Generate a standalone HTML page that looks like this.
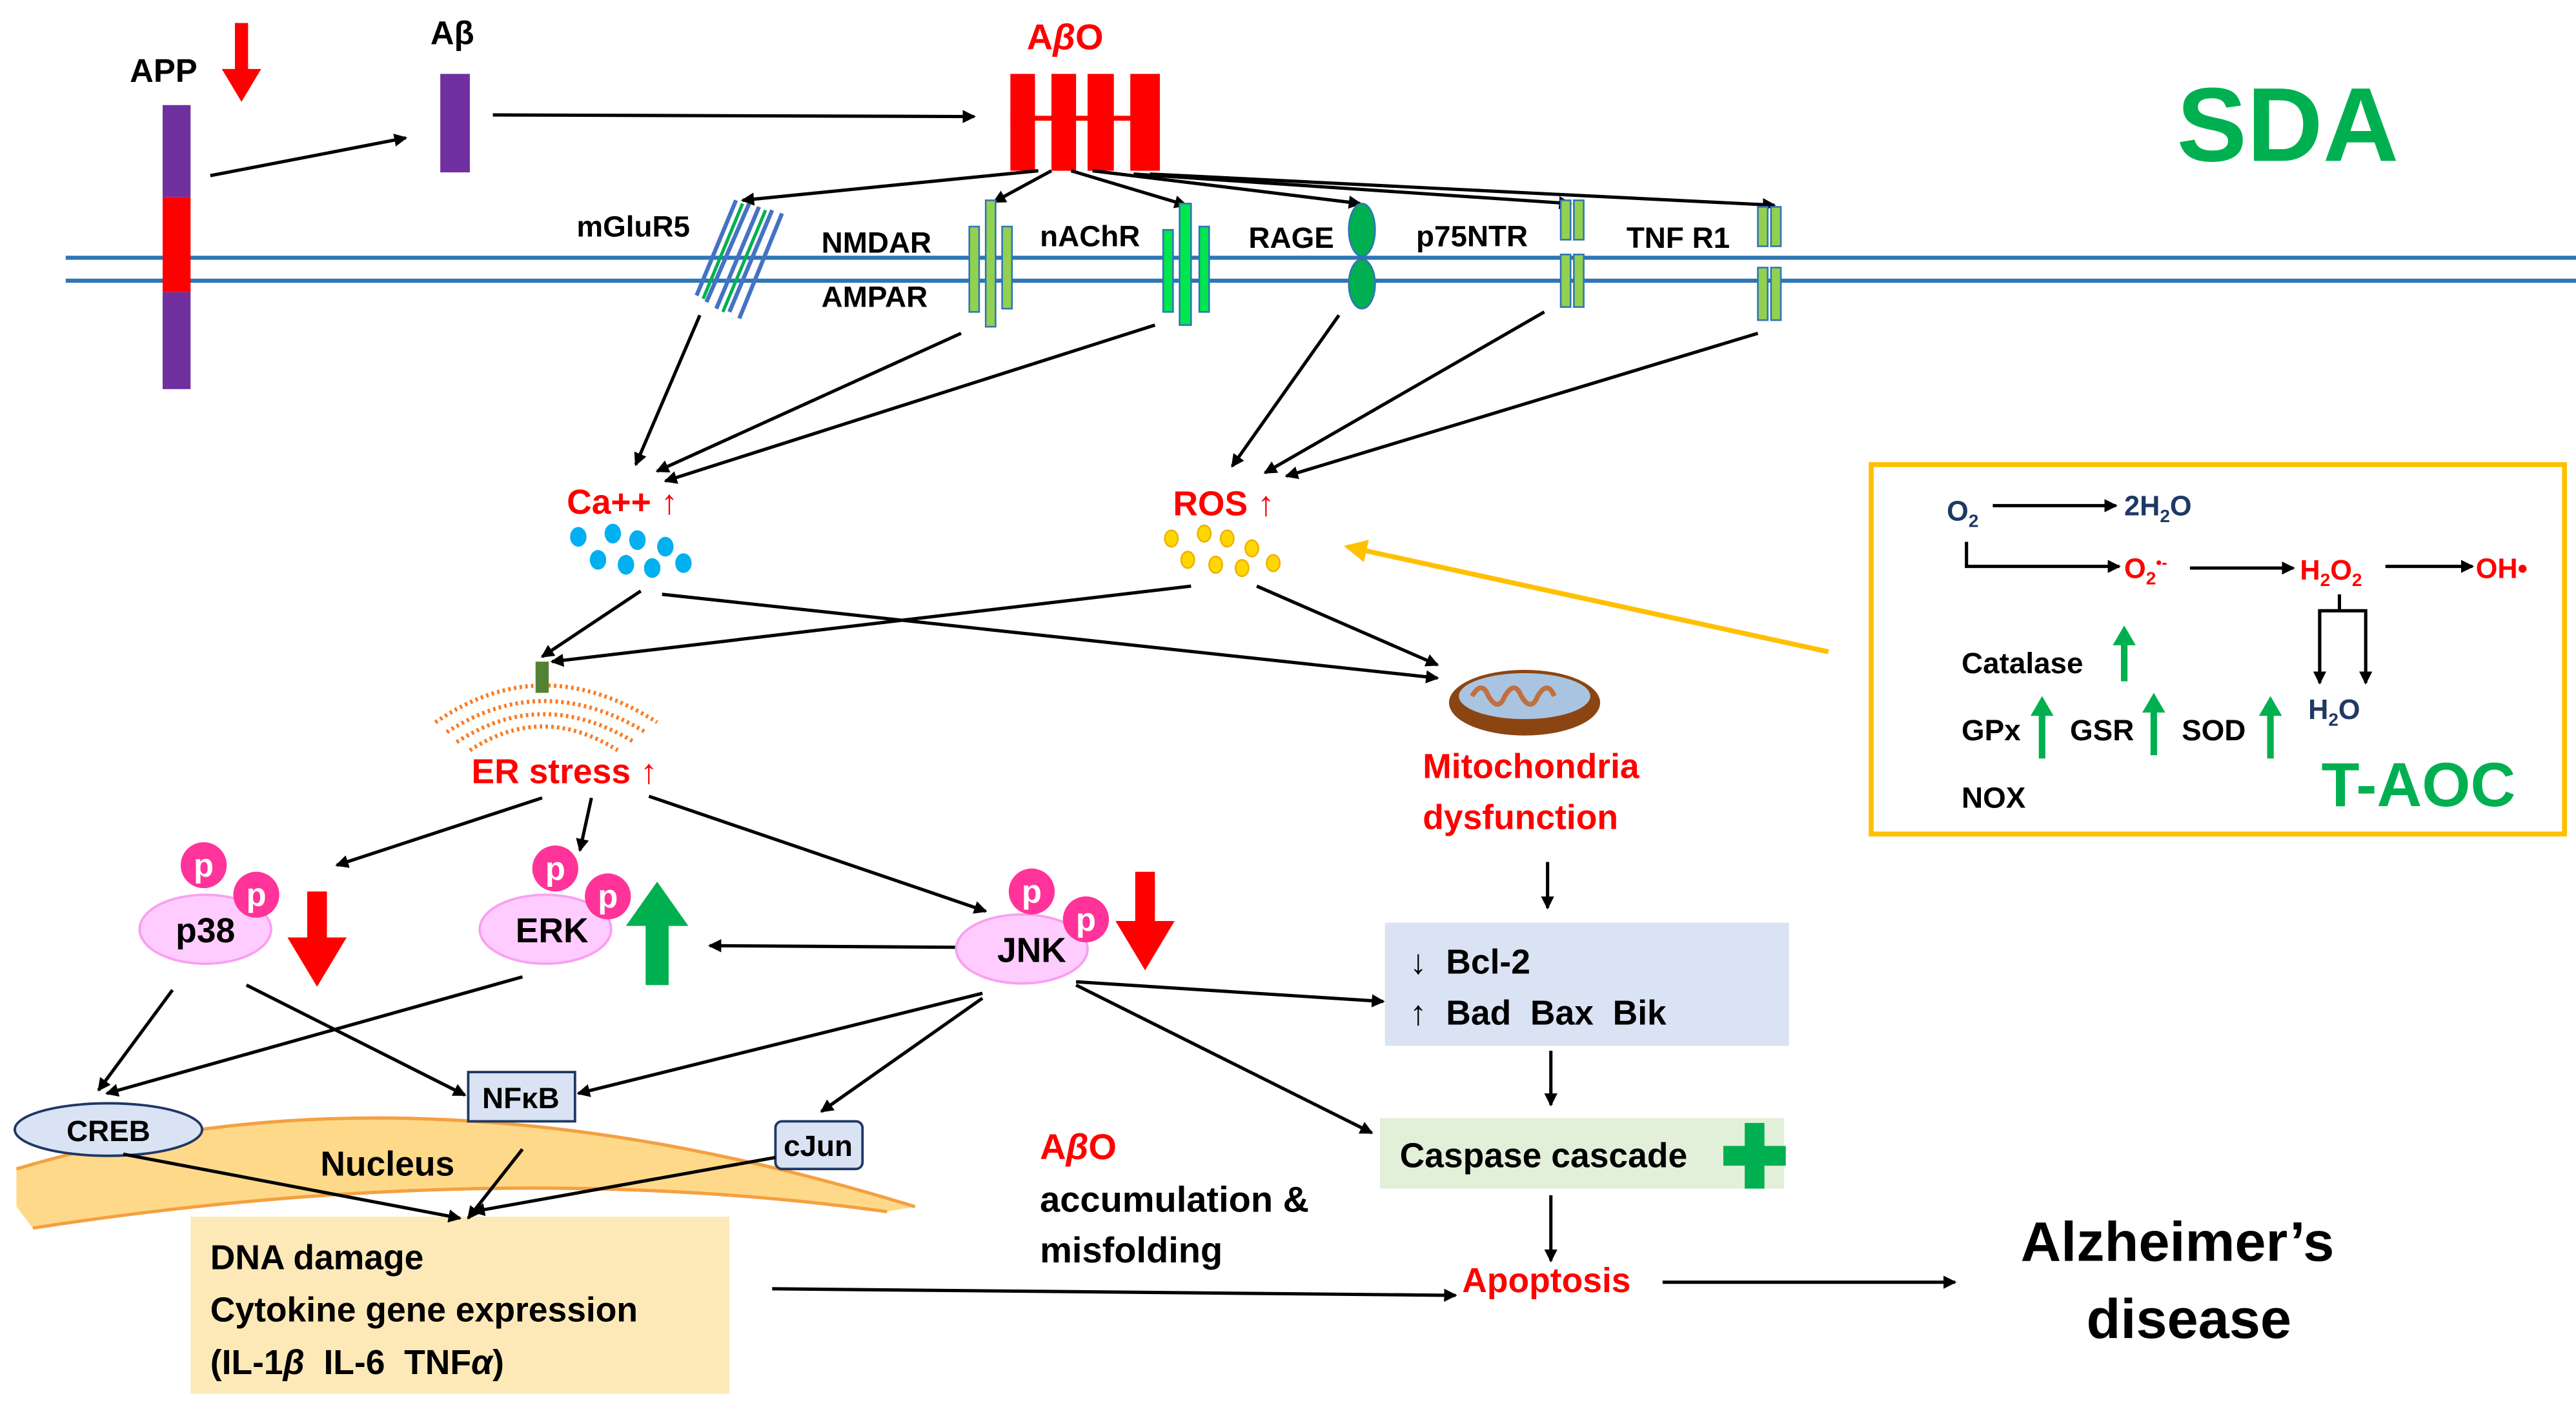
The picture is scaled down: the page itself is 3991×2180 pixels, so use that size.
<!DOCTYPE html>
<html><head><meta charset="utf-8"><style>
html,body{margin:0;padding:0;background:#fff;}
svg{display:block;}
text{font-family:"Liberation Sans",sans-serif;font-weight:bold;white-space:pre;}
</style></head><body>
<svg width="3991" height="2180" viewBox="0 0 1568 857" preserveAspectRatio="none" xmlns="http://www.w3.org/2000/svg">
<defs>
<marker id="a" markerWidth="8" markerHeight="8" refX="7" refY="4" orient="auto" markerUnits="userSpaceOnUse"><path d="M0,0 L8,4 L0,8 z" fill="#000"/></marker>
<marker id="ay" markerWidth="14" markerHeight="14" refX="12" refY="7" orient="auto" markerUnits="userSpaceOnUse"><path d="M0,0 L14,7 L0,14 z" fill="#ffc000"/></marker>
</defs>
<line x1="40" y1="157" x2="1568" y2="157" stroke="#2e75b6" stroke-width="2.5"/>
<line x1="40" y1="171" x2="1568" y2="171" stroke="#2e75b6" stroke-width="2.5"/>
<rect x="99" y="64" width="17" height="56" fill="#7030a0"/>
<rect x="99" y="120" width="17" height="58" fill="#f00"/>
<rect x="99" y="178" width="17" height="59" fill="#7030a0"/>
<text x="79" y="50" font-size="20">APP</text>
<path d="M143,14 h8 v28 h8 l-12,20 l-12,-20 h8z" fill="#f00"/>
<text x="262" y="27" font-size="20">Aβ</text>
<rect x="268" y="45" width="18" height="60" fill="#7030a0"/>
<g stroke="#000" stroke-width="2" fill="none" marker-end="url(#a)">
<line x1="128" y1="107" x2="247" y2="84"/>
<line x1="300" y1="70" x2="593" y2="71"/>
</g>
<text x="625" y="30" font-size="22" fill="#f00">A<tspan font-style="italic">β</tspan>O</text>
<rect x="615" y="45" width="15" height="59" fill="#f00"/>
<rect x="640" y="45" width="15" height="59" fill="#f00"/>
<rect x="662" y="45" width="16" height="59" fill="#f00"/>
<rect x="688" y="45" width="18" height="59" fill="#f00"/>
<line x1="615" y1="72" x2="706" y2="72" stroke="#f00" stroke-width="3"/>
<text x="1325" y="98" font-size="64" fill="#00b050">SDA</text>
<g stroke="#000" stroke-width="2" fill="none" marker-end="url(#a)">
<line x1="632" y1="104" x2="452" y2="122"/>
<line x1="640" y1="104" x2="605" y2="123"/>
<line x1="652" y1="104" x2="722" y2="125"/>
<line x1="665" y1="104" x2="828" y2="124"/>
<line x1="690" y1="106" x2="956" y2="124"/>
<line x1="700" y1="106" x2="1080" y2="125"/>
</g>
<g font-size="18">
<text x="351" y="144">mGluR5</text>
<text x="500" y="154">NMDAR</text>
<text x="500" y="187">AMPAR</text>
<text x="633" y="150">nAChR</text>
<text x="760" y="151">RAGE</text>
<text x="862" y="150">p75NTR</text>
<text x="990" y="151">TNF R1</text>
</g>
<g stroke="#4472c4" stroke-width="2.5" fill="none">
<path d="M448,122 L424,180 M456,124 L430,184 M462,126 L436,188 M470,128 L444,190 M476,130 L450,194"/>
</g>
<path d="M452,124 L428,182 M466,128 L440,190" stroke="#00b050" stroke-width="2" fill="none"/>
<g fill="#92d050" stroke="#2e75b6" stroke-width="1">
<rect x="590" y="138" width="6" height="52"/><rect x="600" y="122" width="6" height="77"/><rect x="610" y="138" width="6" height="50"/>
</g>
<g fill="#00e64d" stroke="#2e75b6" stroke-width="1">
<rect x="708" y="140" width="6" height="50"/><rect x="718" y="124" width="7" height="74"/><rect x="730" y="138" width="6" height="52"/>
</g>
<ellipse cx="829" cy="140" rx="8" ry="16" fill="#00b050" stroke="#2e75b6"/>
<ellipse cx="829" cy="173" rx="8" ry="15" fill="#00b050" stroke="#2e75b6"/>
<g fill="#92d050" stroke="#2e75b6" stroke-width="1">
<rect x="950" y="122" width="6" height="24"/><rect x="958" y="122" width="6" height="24"/>
<rect x="950" y="155" width="6" height="32"/><rect x="958" y="155" width="6" height="32"/>
<rect x="1070" y="126" width="6" height="24"/><rect x="1078" y="126" width="6" height="24"/>
<rect x="1070" y="163" width="6" height="32"/><rect x="1078" y="163" width="6" height="32"/>
</g>
<g stroke="#000" stroke-width="2" fill="none" marker-end="url(#a)">
<line x1="426" y1="192" x2="387" y2="283"/>
<line x1="585" y1="203" x2="400" y2="287"/>
<line x1="703" y1="198" x2="405" y2="293"/>
<line x1="815" y1="192" x2="750" y2="284"/>
<line x1="940" y1="190" x2="770" y2="288"/>
<line x1="1070" y1="203" x2="783" y2="290"/>
</g>
<text x="345" y="313" font-size="21" fill="#f00">Ca++ ↑</text>
<g fill="#00b0f0">
<ellipse cx="352" cy="327" rx="5" ry="6"/><ellipse cx="373" cy="325" rx="5" ry="6"/><ellipse cx="388" cy="329" rx="5" ry="6"/><ellipse cx="405" cy="333" rx="5" ry="6"/>
<ellipse cx="364" cy="341" rx="5" ry="6"/><ellipse cx="381" cy="344" rx="5" ry="6"/><ellipse cx="397" cy="346" rx="5" ry="6"/><ellipse cx="416" cy="343" rx="5" ry="6"/>
</g>
<text x="714" y="314" font-size="21" fill="#f00">ROS ↑</text>
<g fill="#ffd700" stroke="#f0b000" stroke-width="1">
<ellipse cx="713" cy="328" rx="4" ry="5"/><ellipse cx="733" cy="325" rx="4" ry="5"/><ellipse cx="747" cy="328" rx="4" ry="5"/><ellipse cx="762" cy="334" rx="4" ry="5"/>
<ellipse cx="723" cy="341" rx="4" ry="5"/><ellipse cx="740" cy="344" rx="4" ry="5"/><ellipse cx="756" cy="346" rx="4" ry="5"/><ellipse cx="775" cy="343" rx="4" ry="5"/>
</g>
<line x1="1113" y1="397" x2="820" y2="333" stroke="#ffc000" stroke-width="3" marker-end="url(#ay)"/>
<rect x="1139" y="283" width="422" height="225" fill="#fff" stroke="#ffc000" stroke-width="3"/>
<g font-size="17">
<text x="1185" y="317" fill="#1f3864">O<tspan font-size="11" dy="4">2</tspan></text>
<text x="1293" y="314" fill="#1f3864">2H<tspan font-size="11" dy="4">2</tspan><tspan dy="-4">O</tspan></text>
<text x="1293" y="352" fill="#f00">O<tspan font-size="11" dy="4">2</tspan><tspan font-size="10" dy="-10">•-</tspan></text>
<text x="1400" y="353" fill="#f00">H<tspan font-size="11" dy="4">2</tspan><tspan dy="-4">O</tspan><tspan font-size="11" dy="4">2</tspan></text>
<text x="1507" y="352" fill="#f00">OH•</text>
<text x="1405" y="438" fill="#1f3864">H<tspan font-size="11" dy="4">2</tspan><tspan dy="-4">O</tspan></text>
</g>
<g stroke="#000" stroke-width="2" fill="none" marker-end="url(#a)">
<line x1="1213" y1="308" x2="1288" y2="308"/>
<polyline points="1197,330 1197,345 1290,345"/>
<line x1="1333" y1="346" x2="1396" y2="346"/>
<line x1="1452" y1="345" x2="1505" y2="345"/>
</g>
<g stroke="#000" stroke-width="2" fill="none">
<polyline points="1424,362 1424,372"/>
<polyline points="1412,416 1412,372 1440,372 1440,416" marker-end="url(#a)"/>
<line x1="1412" y1="372" x2="1412" y2="416" marker-end="url(#a)"/>
</g>
<g font-size="18">
<text x="1194" y="410">Catalase</text>
<text x="1194" y="451">GPx</text>
<text x="1260" y="451">GSR</text>
<text x="1328" y="451">SOD</text>
<text x="1194" y="492">NOX</text>
</g>
<g fill="#00b050">
<path d="M1291,415 v-22 h-5 l7,-12 l7,12 h-5 v22z"/>
<path d="M1241,462 v-26 h-5 l7,-12 l7,12 h-5 v26z"/>
<path d="M1309,460 v-26 h-5 l7,-12 l7,12 h-5 v26z"/>
<path d="M1380,462 v-26 h-5 l7,-12 l7,12 h-5 v26z"/>
</g>
<text x="1413" y="491" font-size="38" font-weight="normal" fill="#00b050">T-AOC</text>
<g stroke="#000" stroke-width="2" fill="none" marker-end="url(#a)">
<line x1="390" y1="360" x2="330" y2="400"/>
<line x1="403" y1="362" x2="875" y2="413"/>
<line x1="725" y1="357" x2="336" y2="403"/>
<line x1="765" y1="357" x2="875" y2="405"/>
</g>
<g fill="none" stroke="#f97b20" stroke-width="2.5" stroke-dasharray="1.5 2">
<path d="M265,440 Q330,395 400,440"/><path d="M272,446 Q330,408 393,446"/><path d="M278,452 Q330,418 386,452"/><path d="M286,457 Q330,428 376,457"/>
</g>
<rect x="326" y="403" width="8" height="19" fill="#548235"/>
<text x="287" y="477" font-size="21" fill="#f00">ER stress ↑</text>
<ellipse cx="928" cy="428" rx="46" ry="20" fill="#8b4513"/>
<ellipse cx="928" cy="424" rx="40" ry="14" fill="#a9c4e0"/>
<path d="M896,424 q6,-10 10,0 q6,10 10,0 q6,-10 10,0 q6,10 10,0 q6,-10 10,0" stroke="#c07040" stroke-width="3" fill="none"/>
<text x="866" y="474" font-size="21" fill="#f00">Mitochondria</text>
<text x="866" y="505" font-size="21" fill="#f00">dysfunction</text>
<g stroke="#000" stroke-width="2" fill="none" marker-end="url(#a)">
<line x1="330" y1="486" x2="205" y2="527"/>
<line x1="360" y1="486" x2="353" y2="518"/>
<line x1="395" y1="485" x2="600" y2="555"/>
<line x1="585" y1="577" x2="432" y2="576"/>
<line x1="942" y1="525" x2="942" y2="553"/>
</g>
<g fill="#ffccff" stroke="#f9a0f0" stroke-width="1.5">
<ellipse cx="125" cy="566" rx="40" ry="21"/><ellipse cx="332" cy="566" rx="40" ry="21"/><ellipse cx="622" cy="578" rx="40" ry="21"/>
</g>
<g fill="#ff3399">
<circle cx="124" cy="527" r="14"/><circle cx="156" cy="545" r="14"/>
<circle cx="338" cy="529" r="14"/><circle cx="370" cy="546" r="14"/>
<circle cx="628" cy="543" r="14"/><circle cx="661" cy="560" r="14"/>
</g>
<g fill="#fff" font-size="20" text-anchor="middle" style="font-weight:normal">
<text x="124" y="534" font-weight="normal">p</text><text x="156" y="552" font-weight="normal">p</text>
<text x="338" y="536" font-weight="normal">p</text><text x="370" y="553" font-weight="normal">p</text>
<text x="628" y="550" font-weight="normal">p</text><text x="661" y="567" font-weight="normal">p</text>
</g>
<g font-size="21" text-anchor="middle">
<text x="125" y="574">p38</text><text x="336" y="574">ERK</text><text x="628" y="586">JNK</text>
</g>
<path d="M187,543 h12 v28 h12 l-18,30 l-18,-30 h12z" fill="#f00"/>
<path d="M393,600 v-36 h-12 l19,-27 l19,27 h-12 v36z" fill="#00b050"/>
<path d="M691,531 h12 v30 h12 l-18,30 l-18,-30 h12z" fill="#f00"/>
<rect x="843" y="562" width="246" height="75" fill="#dae3f3"/>
<text x="858" y="593" font-size="21">↓  Bcl-2</text>
<text x="858" y="624" font-size="21">↑  Bad  Bax  Bik</text>
<rect x="840" y="681" width="246" height="43" fill="#e2f0d9"/>
<text x="852" y="711" font-size="21">Caspase cascade</text>
<path d="M1062,684 h12 v14 h13 v12 h-13 v14 h-12 v-14 h-13 v-12 h13z" fill="#00b050"/>
<g stroke="#000" stroke-width="2" fill="none" marker-end="url(#a)">
<line x1="655" y1="598" x2="842" y2="610"/>
<line x1="944" y1="640" x2="944" y2="673"/>
<line x1="655" y1="600" x2="835" y2="690"/>
<line x1="944" y1="728" x2="944" y2="768"/>
<line x1="1012" y1="781" x2="1190" y2="781"/>
<line x1="470" y1="785" x2="886" y2="789"/>
</g>
<text x="890" y="787" font-size="21" fill="#f00">Apoptosis</text>
<text x="1230" y="768" font-size="34">Alzheimer’s</text>
<text x="1270" y="815" font-size="34">disease</text>
<text x="633" y="706" font-size="22" fill="#f00">A<tspan font-style="italic">β</tspan>O</text>
<text x="633" y="738" font-size="22">accumulation &amp;</text>
<text x="633" y="769" font-size="22">misfolding</text>
<path d="M10,712 Q250,640 557,735 Q300,690 10,735 Z" fill="#ffd98a" stroke="none"/>
<path d="M10,735 Q300,690 557,735 L540,738 Q300,705 20,748 Z" fill="#ffd98a"/>
<path d="M10,712 Q250,640 557,735" stroke="#f4a040" stroke-width="2" fill="none"/>
<path d="M20,748 Q300,705 540,738" stroke="#f4a040" stroke-width="2" fill="none"/>
<text x="195" y="716" font-size="21">Nucleus</text>
<ellipse cx="66" cy="688" rx="57" ry="16" fill="#dae3f3" stroke="#1f3864" stroke-width="1.5"/>
<text x="66" y="695" font-size="18" text-anchor="middle">CREB</text>
<rect x="285" y="653" width="65" height="30" fill="#dae3f3" stroke="#1f3864" stroke-width="1.5"/>
<text x="317" y="675" font-size="18" text-anchor="middle">NFκB</text>
<rect x="472" y="683" width="53" height="29" rx="4" fill="#dae3f3" stroke="#1f3864" stroke-width="1.5"/>
<text x="498" y="704" font-size="18" text-anchor="middle">cJun</text>
<rect x="116" y="741" width="328" height="108" fill="#fde9b8"/>
<text x="128" y="773" font-size="21">DNA damage</text>
<text x="128" y="805" font-size="21">Cytokine gene expression</text>
<text x="128" y="837" font-size="21">(IL-1<tspan font-style="italic">β</tspan>  IL-6  TNF<tspan font-style="italic">α</tspan>)</text>
<g stroke="#000" stroke-width="2" fill="none" marker-end="url(#a)">
<line x1="105" y1="603" x2="60" y2="664"/>
<line x1="150" y1="600" x2="283" y2="667"/>
<line x1="318" y1="595" x2="65" y2="666"/>
<line x1="598" y1="605" x2="352" y2="666"/>
<line x1="598" y1="608" x2="500" y2="677"/>
<line x1="75" y1="703" x2="280" y2="742"/>
<line x1="318" y1="700" x2="285" y2="742"/>
<line x1="472" y1="705" x2="288" y2="738"/>
</g>
</svg>
</body></html>
